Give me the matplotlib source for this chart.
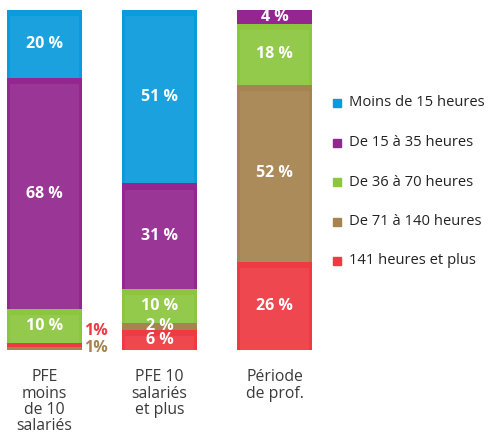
import matplotlib.pyplot as plt
from matplotlib.patches import Rectangle

# ========= Data =========
categories = ["PFE\nmoins\nde 10\nsalariés", "PFE 10\nsalariés\net plus", "Période\nde prof."]
series_names = ["Moins de 15 heures", "De 15 à 35 heures", "De 36 à 70 heures",
                "De 71 à 140 heures", "141 heures et plus"]
moins_15 = [20, 51, 0]
de_15_35 = [68, 31, 4]
de_36_70 = [10, 10, 18]
de_71_140 = [1, 2, 52]
plus_141 = [1, 6, 26]

colors = ["#0a9bdc", "#93278f", "#8cc63e", "#a6834f", "#ee3a43"]

# stacking order from the bottom, per bar (first bar has brown below red)
stack_orders = [[3, 4, 2, 1, 0], [4, 3, 2, 1, 0], [4, 3, 2, 1, 0]]
outside_labels = [True, False, False]

values = [moins_15, de_15_35, de_36_70, de_71_140, plus_141]

# ========= Plot =========
fig = plt.figure(figsize=(4.93, 4.32), dpi=100)
ax = fig.add_axes([0, 82 / 432, 345 / 493, 340 / 432])
ax.set_xlim(-44.5 / 115, (345 - 44.5) / 115)
ax.set_ylim(0, 100)
ax.axis("off")

bar_w = 0.652
font = "Open Sans"

for i, cat in enumerate(categories):
    bottom = 0
    for s in stack_orders[i]:
        v = values[s][i]
        if v == 0:
            continue
        ax.bar(i, v, width=bar_w, bottom=bottom, color=colors[s], linewidth=0)
        if v >= 5:
            # soft gloss inside each segment
            ax.add_patch(Rectangle((i - bar_w / 2 + 0.03, bottom), bar_w - 0.06,
                                   v - 1.8, color="white", alpha=0.07, lw=0))
        mid = bottom + v / 2
        if not (outside_labels[i] and v < 3):
            ax.text(i, mid, f"{v} %", ha="center", va="center", color="white",
                    fontsize=11.5, fontweight="bold", family=font)
        bottom += v

# small values outside the first bar
ax.text(0 + bar_w / 2 + 0.02, 5.5, "1%", ha="left", va="center", color=colors[4],
        fontsize=11.5, fontweight="bold", family=font)
ax.text(0 + bar_w / 2 + 0.02, 0.6, "1%", ha="left", va="center", color=colors[3],
        fontsize=11.5, fontweight="bold", family=font)

# category labels
for i, cat in enumerate(categories):
    ax.text(i, -5.6, cat, ha="center", va="top", color="#3a3a3a", fontsize=11.3,
            family=font, linespacing=1.04, clip_on=False)

# legend
for k, name in enumerate(series_names):
    y = 1 - (103 + k * 39.5) / 432
    fig.patches.append(Rectangle((333 / 493, y - 4 / 432), 8 / 493, 8 / 432,
                                 color=colors[k], transform=fig.transFigure, figure=fig))
    fig.text(349 / 493, y, name, ha="left", va="center", color="#222222",
             fontsize=10.6, family=font)

fig.savefig("out.png", dpi=100)
